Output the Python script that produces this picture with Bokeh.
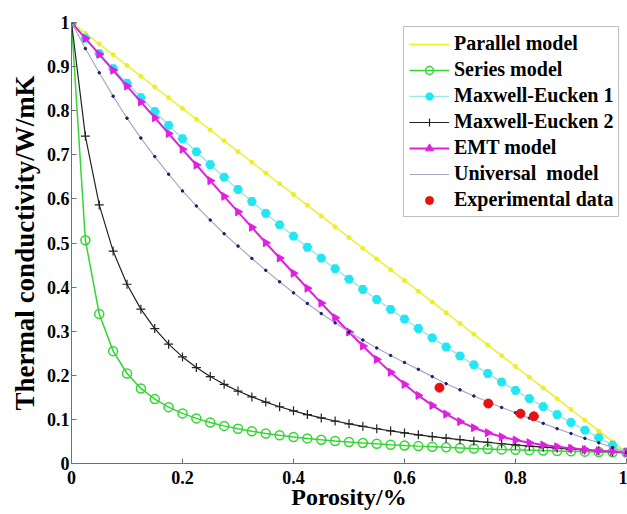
from bokeh.plotting import figure
from bokeh.models import FixedTicker, Legend, LegendItem
from bokeh.embed import file_html
from bokeh.resources import INLINE

porosity = [0.0, 0.025, 0.05, 0.075, 0.1, 0.125, 0.15, 0.175, 0.2, 0.225, 0.25,
            0.275, 0.3, 0.325, 0.35, 0.375, 0.4, 0.425, 0.45, 0.475, 0.5,
            0.525, 0.55, 0.575, 0.6, 0.625, 0.65, 0.675, 0.7, 0.725, 0.75,
            0.775, 0.8, 0.825, 0.85, 0.875, 0.9, 0.925, 0.95, 0.975, 1.0]

parallel = [1.0, 0.9756, 0.9513, 0.9269, 0.9025, 0.8781, 0.8538, 0.8294, 0.805, 0.7806, 0.7563,
            0.7319, 0.7075, 0.6831, 0.6588, 0.6344, 0.61, 0.5856, 0.5613, 0.5369, 0.5125,
            0.4881, 0.4638, 0.4394, 0.415, 0.3906, 0.3663, 0.3419, 0.3175, 0.2931, 0.2688,
            0.2444, 0.22, 0.1956, 0.1713, 0.1469, 0.1225, 0.0981, 0.0738, 0.0494, 0.025]

series = [1.0, 0.5063, 0.339, 0.2548, 0.2041, 0.1702, 0.146, 0.1278, 0.1136, 0.1023, 0.093,
          0.0853, 0.0787, 0.0731, 0.0682, 0.064, 0.0602, 0.0569, 0.0539, 0.0512, 0.0488,
          0.0466, 0.0446, 0.0427, 0.041, 0.0394, 0.038, 0.0366, 0.0353, 0.0341, 0.033,
          0.032, 0.031, 0.0301, 0.0292, 0.0284, 0.0276, 0.0269, 0.0262, 0.0255, 0.025]

maxwell1 = [1.0, 0.9643, 0.9295, 0.8954, 0.8622, 0.8297, 0.7979, 0.7669, 0.7365, 0.7068, 0.6777,
            0.6492, 0.6214, 0.5941, 0.5674, 0.5412, 0.5155, 0.4904, 0.4658, 0.4416, 0.4179,
            0.3947, 0.3719, 0.3495, 0.3276, 0.3061, 0.2849, 0.2642, 0.2438, 0.2237, 0.2041,
            0.1848, 0.1658, 0.1471, 0.1288, 0.1108, 0.093, 0.0756, 0.0584, 0.0416, 0.025]

maxwell2 = [1.0, 0.7425, 0.5864, 0.4816, 0.4065, 0.35, 0.3059, 0.2706, 0.2417, 0.2175, 0.1971,
            0.1795, 0.1643, 0.151, 0.1392, 0.1287, 0.1194, 0.1109, 0.1033, 0.0963, 0.09,
            0.0842, 0.0788, 0.0739, 0.0693, 0.0651, 0.0611, 0.0574, 0.054, 0.0507, 0.0477,
            0.0448, 0.0421, 0.0396, 0.0371, 0.0348, 0.0327, 0.0306, 0.0287, 0.0268, 0.025]

emt = [1.0, 0.9639, 0.9278, 0.8918, 0.8559, 0.8199, 0.7841, 0.7483, 0.7125, 0.6769, 0.6414,
       0.6059, 0.5707, 0.5355, 0.5006, 0.4659, 0.4315, 0.3974, 0.3637, 0.3306, 0.2982,
       0.2666, 0.2361, 0.207, 0.1796, 0.1544, 0.1318, 0.112, 0.0951, 0.0812, 0.0698,
       0.0605, 0.0531, 0.047, 0.042, 0.0379, 0.0344, 0.0315, 0.029, 0.0269, 0.025]

universal = [1.0, 0.941, 0.886, 0.833, 0.783, 0.738, 0.696, 0.656, 0.618, 0.584, 0.552,
             0.521, 0.493, 0.465, 0.438, 0.412, 0.387, 0.363, 0.34, 0.319, 0.298,
             0.28, 0.262, 0.245, 0.229, 0.2135, 0.197, 0.181, 0.167, 0.153, 0.14,
             0.127, 0.115, 0.103, 0.091, 0.079, 0.068, 0.057, 0.047, 0.036, 0.025]

exp_porosity = [0.663, 0.751, 0.809, 0.833]
exp_k = [0.172, 0.136, 0.113, 0.107]

x_ticks = [0, 0.2, 0.4, 0.6, 0.8, 1]
x_tick_labels = ["0", "0.2", "0.4", "0.6", "0.8", "1"]
y_ticks = [0, 0.1, 0.2, 0.3, 0.4, 0.5, 0.6, 0.7, 0.8, 0.9, 1]
y_tick_labels = ["0", "0.1", "0.2", "0.3", "0.4", "0.5", "0.6", "0.7", "0.8", "0.9", "1"]

FONT = "Liberation Serif"

p = figure(width=627, height=514, x_range=(0, 1), y_range=(0, 1),
           output_backend="svg", toolbar_location=None,
           min_border_left=71, min_border_right=1, min_border_top=22, min_border_bottom=51)
p.grid.visible = False
p.outline_line_color = None
p.background_fill_color = "white"
p.border_fill_color = "white"

for ax, ticks, labels in ((p.xaxis[0], x_ticks, x_tick_labels), (p.yaxis[0], y_ticks, y_tick_labels)):
    ax.ticker = FixedTicker(ticks=ticks)
    ax.major_label_overrides = {t: l for t, l in zip(ticks, labels)}
    ax.minor_tick_line_color = None
    ax.major_tick_in = 5
    ax.major_tick_out = 0
    ax.axis_line_color = "#707070"
    ax.major_tick_line_color = "#707070"
    ax.major_label_text_font = FONT
    ax.major_label_text_font_style = "bold"
    ax.major_label_text_font_size = "18px"
    ax.major_label_text_color = "black"
    ax.axis_label_text_font = FONT
    ax.axis_label_text_font_style = "bold"
    ax.axis_label_text_color = "black"

p.xaxis.axis_label = "Porosity/%"
p.yaxis.axis_label = "Thermal conductivity/W/mK"
p.xaxis.axis_label_text_font_size = "24px"
p.yaxis.axis_label_text_font_size = "27px"
p.xaxis.major_label_standoff = 7
p.yaxis.major_label_standoff = 2
p.xaxis.axis_label_standoff = -3
p.yaxis.axis_label_standoff = 4

items = []

r1 = p.line(porosity, parallel, line_color="#eeee22", line_width=1.5)
p.scatter(porosity, parallel, marker="circle", size=4, fill_color="#eeee22", line_color="#eeee22")
items.append(LegendItem(label="Parallel model", renderers=[r1]))

r2 = p.line(porosity, series, line_color="#33d633", line_width=1.5)
r2m = p.scatter(porosity, series, marker="circle", size=9, fill_color=None, line_color="#33d633", line_width=1.5)
items.append(LegendItem(label="Series model", renderers=[r2, r2m]))

r3 = p.line(porosity, maxwell1, line_color="#9ae8ee", line_width=1.5)
r3m = p.scatter(porosity, maxwell1, marker="hex", size=9, fill_color="#22e6f2", line_color="#22e6f2")
items.append(LegendItem(label="Maxwell-Eucken 1", renderers=[r3, r3m]))

r4 = p.line(porosity, maxwell2, line_color="#222222", line_width=1.2)
r4m = p.scatter(porosity, maxwell2, marker="cross", size=9, line_color="#222222", line_width=1.2)
items.append(LegendItem(label="Maxwell-Eucken 2", renderers=[r4, r4m]))

r5 = p.line(porosity, emt, line_color="#e020e0", line_width=2)
r5m = p.scatter(porosity, emt, marker="triangle", angle=-1.5708, size=8, fill_color="#e020e0", line_color="#e020e0")
items.append(LegendItem(label="EMT model", renderers=[r5, r5m]))

r6 = p.line(porosity, universal, line_color="#a9a9c6", line_width=1.2)
p.scatter(porosity, universal, marker="circle", size=2.5, fill_color="#1c1c6a", line_color="#1c1c6a")
items.append(LegendItem(label="Universal  model", renderers=[r6]))

r7 = p.scatter(exp_porosity, exp_k, marker="circle", size=9, fill_color="#e81010", line_color="#e81010")
items.append(LegendItem(label="Experimental data", renderers=[r7]))

legend = Legend(items=items, location=(332, 246), margin=0)
legend.label_text_font = FONT
legend.label_text_font_style = "bold"
legend.label_text_font_size = "20px"
legend.label_text_color = "black"
legend.glyph_width = 40
legend.glyph_height = 20
legend.label_height = 22
legend.spacing = 3
legend.padding = 5
legend.label_standoff = 5
legend.border_line_color = "#808080"
legend.border_line_width = 1
legend.background_fill_color = "white"
legend.background_fill_alpha = 1
p.add_layout(legend)

open("out.html", "w").write(file_html(p, INLINE))
